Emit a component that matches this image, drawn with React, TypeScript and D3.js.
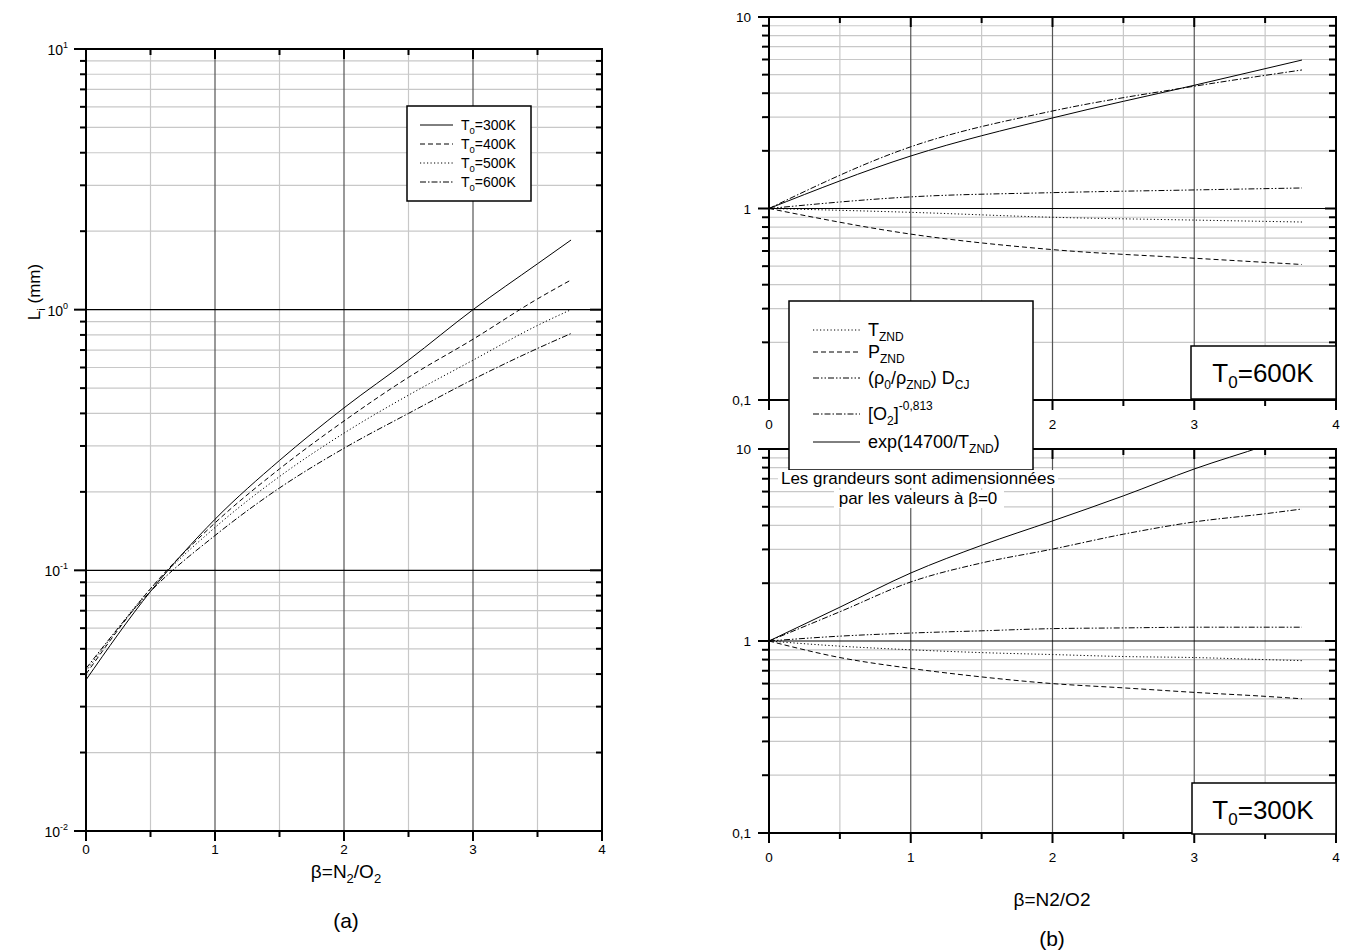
import React from 'react';
import * as d3 from 'd3';

// ---------- data ----------
const betaA = [0, 0.5, 1, 1.5, 2, 2.5, 3, 3.5, 3.76];
const L300 = [0.038, 0.083, 0.157, 0.264, 0.42, 0.64, 1.0, 1.5, 1.85];
const L400 = [0.040, 0.085, 0.152, 0.245, 0.374, 0.55, 0.77, 1.1, 1.3];
const L500 = [0.041, 0.085, 0.146, 0.229, 0.336, 0.47, 0.64, 0.87, 1.0];
const L600 = [0.042, 0.083, 0.136, 0.207, 0.294, 0.40, 0.54, 0.71, 0.81];
const legendA = ['300K', '400K', '500K', '600K'];

const betaTop = [0, 1, 2, 3, 3.76];
const top_T = [1, 0.955, 0.90, 0.87, 0.85];
const top_P = [1, 0.735, 0.61, 0.55, 0.51];
const top_rho = [1, 1.15, 1.21, 1.25, 1.28];
const top_O2 = [1, 2.10, 3.23, 4.35, 5.29];
const top_exp = [1, 1.88, 2.97, 4.4, 5.96];

const betaBot = [0, 0.5, 1, 1.5, 2, 2.5, 3, 3.5, 3.76];
const bot_T = [1, 0.94, 0.90, 0.87, 0.85, 0.83, 0.82, 0.80, 0.79];
const bot_P = [1, 0.82, 0.72, 0.65, 0.60, 0.57, 0.54, 0.515, 0.50];
const bot_rho = [1, 1.06, 1.10, 1.13, 1.16, 1.17, 1.18, 1.18, 1.18];
const bot_O2 = [1, 1.42, 2.03, 2.55, 3.01, 3.6, 4.17, 4.6, 4.87];
const bot_exp = [1, 1.5, 2.26, 3.15, 4.22, 5.7, 7.87, 10.4, 12.1];

const xTicks = [0, 1, 2, 3, 4];
const xMinor = [0.5, 1.5, 2.5, 3.5];

const FONT = 'Liberation Sans, Arial, Helvetica, sans-serif';

const DASH: Record<string, string | undefined> = {
  solid: undefined,
  dash: '5,3',
  dot: '1.2,2.3',
  dashdot: '6,2,1.5,2',
  dashdotdot: '6,2,1.5,2,1.5,2',
};

type Series = { x: number[]; y: number[]; style: string };

type PanelProps = {
  id: string;
  left: number; right: number; top: number; bottom: number;
  ymin: number; ymax: number;
  series: Series[];
  yLabel: (v: number, y: number, x: number) => React.ReactNode;
  xLabelDy: number;
  xLabelSize: number;
  yMajorLen: number; yMinorLen: number;
};

function Panel(p: PanelProps) {
  const x = d3.scaleLinear().domain([0, 4]).range([p.left, p.right]);
  const y = d3.scaleLog().domain([p.ymin, p.ymax]).range([p.bottom, p.top]);
  const e0 = Math.round(Math.log10(p.ymin));
  const e1 = Math.round(Math.log10(p.ymax));
  const decades: number[] = [];
  const minors: number[] = [];
  for (let e = e0; e <= e1; e++) {
    decades.push(Math.pow(10, e));
    if (e < e1) for (let k = 2; k <= 9; k++) minors.push(k * Math.pow(10, e));
  }
  const line = d3.line<[number, number]>().x(d => x(d[0])).y(d => y(d[1])).curve(d3.curveMonotoneX);
  return (
    <g>
      <defs>
        <clipPath id={p.id}>
          <rect x={p.left} y={p.top} width={p.right - p.left} height={p.bottom - p.top} />
        </clipPath>
      </defs>
      {minors.map((v, i) => (
        <line key={'hm' + i} x1={p.left} x2={p.right} y1={y(v)} y2={y(v)} stroke="#c8c8c8" strokeWidth={1.2} />
      ))}
      {xMinor.map((v, i) => (
        <line key={'vm' + i} x1={x(v)} x2={x(v)} y1={p.top} y2={p.bottom} stroke="#c8c8c8" strokeWidth={1.2} />
      ))}
      {[1, 2, 3].map((v, i) => (
        <line key={'vM' + i} x1={x(v)} x2={x(v)} y1={p.top} y2={p.bottom} stroke="#555" strokeWidth={1.2} />
      ))}
      {decades.slice(1, -1).map((v, i) => (
        <line key={'hM' + i} x1={p.left} x2={p.right} y1={y(v)} y2={y(v)} stroke="#000" strokeWidth={1.2} />
      ))}
      <g clipPath={`url(#${p.id})`}>
        {p.series.map((s, i) => (
          <path key={'s' + i} d={line(s.x.map((xx, j) => [xx, s.y[j]] as [number, number])) || ''}
            fill="none" stroke="#000" strokeWidth={1} strokeDasharray={DASH[s.style]} />
        ))}
      </g>
      {minors.map((v, i) => (
        <g key={'tm' + i}>
          <line x1={p.left - p.yMinorLen} x2={p.left} y1={y(v)} y2={y(v)} stroke="#000" strokeWidth={2} />
          <line x1={p.right - p.yMinorLen} x2={p.right} y1={y(v)} y2={y(v)} stroke="#000" strokeWidth={2} />
        </g>
      ))}
      {decades.map((v, i) => (
        <g key={'tM' + i}>
          <line x1={p.left - p.yMajorLen} x2={p.left} y1={y(v)} y2={y(v)} stroke="#000" strokeWidth={2} />
          <line x1={p.right - p.yMajorLen} x2={p.right} y1={y(v)} y2={y(v)} stroke="#000" strokeWidth={2} />
          {p.yLabel(v, y(v), p.left)}
        </g>
      ))}
      {xMinor.map((v, i) => (
        <g key={'xm' + i}>
          <line x1={x(v)} x2={x(v)} y1={p.bottom} y2={p.bottom + 6} stroke="#000" strokeWidth={2} />
          <line x1={x(v)} x2={x(v)} y1={p.top} y2={p.top + 6} stroke="#000" strokeWidth={2} />
        </g>
      ))}
      {xTicks.map((v, i) => (
        <g key={'xM' + i}>
          <line x1={x(v)} x2={x(v)} y1={p.bottom} y2={p.bottom + 10} stroke="#000" strokeWidth={2} />
          <line x1={x(v)} x2={x(v)} y1={p.top} y2={p.top + 10} stroke="#000" strokeWidth={2} />
          <text x={x(v)} y={p.bottom + p.xLabelDy} textAnchor="middle" fontSize={p.xLabelSize} fontFamily={FONT}>{v}</text>
        </g>
      ))}
      <rect x={p.left} y={p.top} width={p.right - p.left} height={p.bottom - p.top} fill="none" stroke="#000" strokeWidth={2} />
    </g>
  );
}

const leftLabel = (v: number, yy: number, xx: number) => {
  const e = Math.round(Math.log10(v));
  return (
    <text x={xx - 18} y={yy + 6} textAnchor="end" fontSize={14} fontFamily={FONT}>
      10<tspan fontSize={9} dy={-7}>{e}</tspan>
    </text>
  );
};
const rightLabel = (v: number, yy: number, xx: number) => (
  <text x={xx - 18} y={yy + 5} textAnchor="end" fontSize={13.5} fontFamily={FONT}>
    {v >= 1 ? String(v) : String(v).replace('.', ',')}
  </text>
);

export default function App() {
  const seriesA: Series[] = [
    { x: betaA, y: L300, style: 'solid' },
    { x: betaA, y: L400, style: 'dash' },
    { x: betaA, y: L500, style: 'dot' },
    { x: betaA, y: L600, style: 'dashdot' },
  ];
  const seriesTop: Series[] = [
    { x: betaTop, y: top_T, style: 'dot' },
    { x: betaTop, y: top_P, style: 'dash' },
    { x: betaTop, y: top_rho, style: 'dashdotdot' },
    { x: betaTop, y: top_O2, style: 'dashdot' },
    { x: betaTop, y: top_exp, style: 'solid' },
  ];
  const seriesBot: Series[] = [
    { x: betaBot, y: bot_T, style: 'dot' },
    { x: betaBot, y: bot_P, style: 'dash' },
    { x: betaBot, y: bot_rho, style: 'dashdotdot' },
    { x: betaBot, y: bot_O2, style: 'dashdot' },
    { x: betaBot, y: bot_exp, style: 'solid' },
  ];
  const legA = { x: 407, y: 106, w: 124, h: 95 };
  const legAStyles = ['solid', 'dash', 'dot', 'dashdot'];
  const legB = { x: 789, y: 301, w: 244, h: 169 };
  const legBStyles = ['dot', 'dash', 'dashdotdot', 'dashdot', 'solid'];
  const legBY = [330, 352, 378, 414, 442];
  const sub = (t: string, size = 12) => <tspan fontSize={size} dy={5}>{t}</tspan>;
  return (
    <svg width={1346} height={952} style={{ position: 'absolute', left: 0, top: 0, background: '#fff' }}>
      <rect width={1346} height={952} fill="#fff" />
      {/* (a) */}
      <Panel id="clipA" left={86} right={602} top={49} bottom={831} ymin={0.01} ymax={10}
        series={seriesA} yLabel={leftLabel} xLabelDy={23} xLabelSize={13.5} yMajorLen={12} yMinorLen={6} />
      <g>
        <rect x={legA.x} y={legA.y} width={legA.w} height={legA.h} fill="#fff" stroke="#000" strokeWidth={1.5} />
        {legendA.map((t, i) => {
          const ly = 125 + i * 19;
          return (
            <g key={'la' + i}>
              <line x1={420} x2={453} y1={ly} y2={ly} stroke="#000" strokeWidth={1} strokeDasharray={DASH[legAStyles[i]]} />
              <text x={461} y={ly + 5} fontSize={14} fontFamily={FONT}>
                T<tspan fontSize={9.5} dy={4}>0</tspan><tspan dy={-4}>={t}</tspan>
              </text>
            </g>
          );
        })}
      </g>
      <text transform="translate(40,292) rotate(-90)" textAnchor="middle" fontSize={17} fontFamily={FONT}>
        L<tspan fontSize={11} dy={5}>i</tspan><tspan dy={-5}>{'\u00a0(mm)'}</tspan>
      </text>
      <text x={346} y={878} textAnchor="middle" fontSize={19} fontFamily={FONT}>
        β=N<tspan fontSize={13} dy={5}>2</tspan><tspan dy={-5}>/O</tspan><tspan fontSize={13} dy={5}>2</tspan>
      </text>
      <text x={346} y={928} textAnchor="middle" fontSize={21} fontFamily={FONT}>(a)</text>

      {/* (b) */}
      <Panel id="clipT" left={769} right={1336} top={17} bottom={400} ymin={0.1} ymax={10}
        series={seriesTop} yLabel={rightLabel} xLabelDy={29} xLabelSize={13.5} yMajorLen={11} yMinorLen={7} />
      <Panel id="clipB" left={769} right={1336} top={449} bottom={833} ymin={0.1} ymax={10}
        series={seriesBot} yLabel={rightLabel} xLabelDy={29} xLabelSize={13.5} yMajorLen={11} yMinorLen={7} />

      <rect x={1191} y={346} width={145} height={53} fill="#fff" stroke="#000" strokeWidth={1.5} />
      <text x={1263} y={382} textAnchor="middle" fontSize={26} fontFamily={FONT}>
        T<tspan fontSize={17} dy={6}>0</tspan><tspan dy={-6}>=600K</tspan>
      </text>
      <rect x={1192} y={783} width={144} height={51} fill="#fff" stroke="#000" strokeWidth={1.5} />
      <text x={1263} y={819} textAnchor="middle" fontSize={26} fontFamily={FONT}>
        T<tspan fontSize={17} dy={6}>0</tspan><tspan dy={-6}>=300K</tspan>
      </text>

      <g>
        <rect x={legB.x} y={legB.y} width={legB.w} height={legB.h} fill="#fff" stroke="#000" strokeWidth={1.5} />
        {legBStyles.map((s, i) => (
          <line key={'lb' + i} x1={813} x2={860} y1={legBY[i]} y2={legBY[i]} stroke="#000" strokeWidth={1} strokeDasharray={DASH[s]} />
        ))}
        <text x={868} y={legBY[0] + 6} fontSize={18} fontFamily={FONT}>T{sub('ZND')}</text>
        <text x={868} y={legBY[1] + 6} fontSize={18} fontFamily={FONT}>P{sub('ZND')}</text>
        <text x={868} y={legBY[2] + 6} fontSize={18} fontFamily={FONT}>
          (ρ{sub('0')}<tspan dy={-5}>/ρ</tspan>{sub('ZND')}<tspan dy={-5}>{') D'}</tspan>{sub('CJ')}
        </text>
        <text x={868} y={legBY[3] + 6} fontSize={18} fontFamily={FONT}>
          [O{sub('2')}<tspan dy={-5}>]</tspan><tspan fontSize={12} dy={-10}>-0,813</tspan>
        </text>
        <text x={868} y={legBY[4] + 6} fontSize={18} fontFamily={FONT}>
          exp(14700/T{sub('ZND')}<tspan dy={-5}>)</tspan>
        </text>
      </g>
      <rect x={778} y={470} width={280} height={18} fill="#fff" />
      <text x={918} y={484} textAnchor="middle" fontSize={17} fontFamily={FONT}>Les grandeurs sont adimensionnées</text>
      <rect x={834} y={490} width={170} height={18} fill="#fff" />
      <text x={918} y={504} textAnchor="middle" fontSize={17} fontFamily={FONT}>par les valeurs à β=0</text>

      <text x={1052} y={906} textAnchor="middle" fontSize={19} fontFamily={FONT}>β=N2/O2</text>
      <text x={1052} y={946} textAnchor="middle" fontSize={21} fontFamily={FONT}>(b)</text>
    </svg>
  );
}
